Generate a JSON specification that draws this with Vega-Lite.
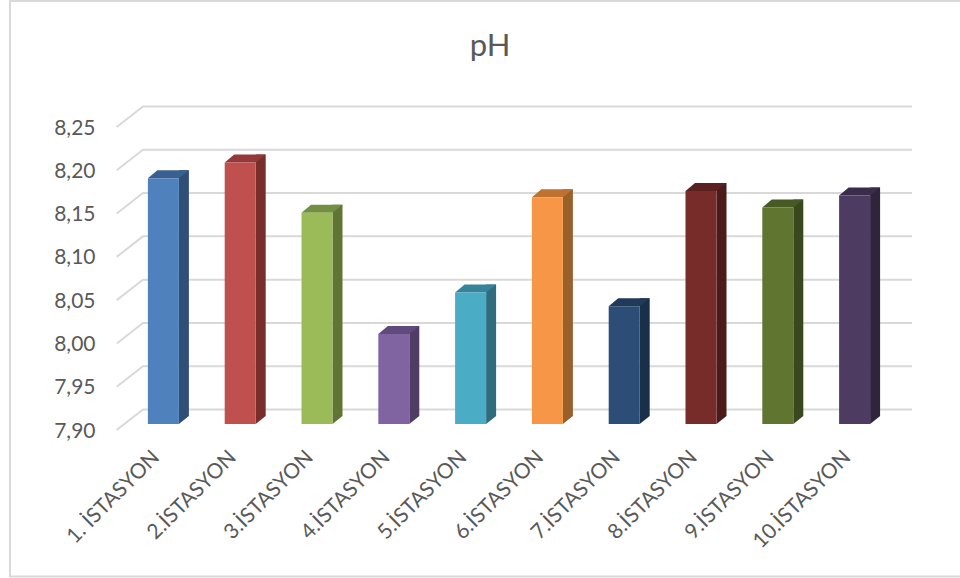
{
  "$schema": "https://vega.github.io/schema/vega-lite/v6.json",
  "width": 768,
  "height": 303,
  "autosize": {"type": "none"},
  "padding": {"left": 125, "top": 121, "right": 67, "bottom": 154},
  "background": "white",
  "title": {"text": "pH", "font": "Lato", "fontSize": 31, "fontWeight": "normal", "color": "#595959", "anchor": "middle", "dx": -19, "offset": -66},
  "config": {"view": {"stroke": null}},
  "datasets": {
    "stations": [
      {"station": "1. İSTASYON", "ph": 8.184},
      {"station": "2.İSTASYON", "ph": 8.202},
      {"station": "3.İSTASYON", "ph": 8.144},
      {"station": "4.İSTASYON", "ph": 8.004},
      {"station": "5.İSTASYON", "ph": 8.052},
      {"station": "6.İSTASYON", "ph": 8.162},
      {"station": "7.İSTASYON", "ph": 8.036},
      {"station": "8.İSTASYON", "ph": 8.169},
      {"station": "9.İSTASYON", "ph": 8.15},
      {"station": "10.İSTASYON", "ph": 8.164}
    ],
    "levels": [
      {"level": 7.9}, {"level": 7.95}, {"level": 8.0}, {"level": 8.05},
      {"level": 8.1}, {"level": 8.15}, {"level": 8.2}, {"level": 8.25}
    ]
  },
  "data": {"name": "stations"},
  "encoding": {
    "x": {
      "field": "station",
      "type": "nominal",
      "sort": null,
      "scale": {"paddingInner": 0, "paddingOuter": 0},
      "axis": {
        "title": null, "domain": false, "ticks": false,
        "labelAngle": -45, "labelAlign": "right", "labelBaseline": "middle",
        "labelFont": "Lato", "labelFontSize": 21, "labelColor": "#595959",
        "labelPadding": 30, "labelOffset": -7, "labelOverlap": false, "labelLimit": 300
      }
    }
  },
  "layer": [
    {
      "description": "Chart frame, open on the right",
      "data": {"values": [{"level": 7.9}]},
      "mark": {"type": "point", "filled": false, "opacity": 1, "size": 4, "stroke": "#D9D9D9", "strokeWidth": 2,
        "shape": "M796.6,-423 L-153.4,-423 L-153.4,152.5 L796.6,152.5"},
      "encoding": {
        "x": {"datum": "1. İSTASYON"},
        "y": {"field": "level", "type": "quantitative"}
      }
    },
    {
      "description": "Floor-to-wall gridlines: slanted side wall then the back wall",
      "data": {"name": "levels"},
      "mark": {"type": "point", "filled": false, "opacity": 1, "size": 4, "stroke": "#D9D9D9", "strokeWidth": 2,
        "shape": "M-46.7,6 L-20.4,-14.5 L748.6,-14.5"},
      "encoding": {
        "x": {"datum": "1. İSTASYON"},
        "y": {
          "field": "level", "type": "quantitative",
          "scale": {"domain": [7.9, 8.25], "zero": false, "nice": false},
          "axis": {
            "title": null, "domain": false, "ticks": false, "grid": false,
            "values": [7.9, 7.95, 8.0, 8.05, 8.1, 8.15, 8.2, 8.25],
            "labelExpr": "replace(format(datum.value, '.2f'), '.', ',')",
            "labelFont": "Lato", "labelFontSize": 21, "labelColor": "#595959",
            "labelPadding": 30, "labelOffset": 7
          }
        }
      }
    },
    {
      "description": "Right side face of each column",
      "mark": {"type": "bar", "width": 10, "xOffset": 20.5, "yOffset": -8, "y2Offset": -8},
      "encoding": {
        "y": {"field": "ph", "type": "quantitative"},
        "y2": {"datum": 7.9},
        "color": {
          "field": "station", "type": "nominal", "sort": null, "legend": null,
          "scale": {"range": ["#2F4F77", "#772E2C", "#607535", "#4F3D66", "#2E6C7E", "#98602B", "#1A2F49", "#4A1B1A", "#3A481E", "#30243D"]}
        }
      }
    },
    {
      "description": "Lower corner of each side face",
      "mark": {"type": "point", "filled": true, "opacity": 1, "size": 4, "shape": "M15.5,0 L15.5,-8 L25.5,-8 Z"},
      "encoding": {
        "y": {"datum": 7.9},
        "color": {
          "field": "station", "type": "nominal", "sort": null, "legend": null,
          "scale": {"range": ["#2F4F77", "#772E2C", "#607535", "#4F3D66", "#2E6C7E", "#98602B", "#1A2F49", "#4A1B1A", "#3A481E", "#30243D"]}
        }
      }
    },
    {
      "description": "Top face of each column",
      "mark": {"type": "point", "filled": true, "opacity": 1, "size": 4, "shape": "M-15.5,0 L-6,-8 L25.5,-8 L15.5,0 Z"},
      "encoding": {
        "y": {"field": "ph", "type": "quantitative"},
        "color": {
          "field": "station", "type": "nominal", "sort": null, "legend": null,
          "scale": {"range": ["#3A6090", "#933937", "#748F41", "#5F4A7B", "#37839A", "#BD7230", "#213A59", "#5A2120", "#475A24", "#3A2C4A"]}
        }
      }
    },
    {
      "description": "Front face of each column",
      "mark": {"type": "bar", "width": 31},
      "encoding": {
        "y": {"field": "ph", "type": "quantitative"},
        "y2": {"datum": 7.9},
        "color": {
          "field": "station", "type": "nominal", "sort": null, "legend": null,
          "scale": {"range": ["#4F81BD", "#C0504D", "#9BBB59", "#8064A2", "#4BACC6", "#F79646", "#2C4D75", "#772C2A", "#5F7530", "#4D3B62"]}
        }
      }
    }
  ],
  "resolve": {"scale": {"color": "independent"}}
}
